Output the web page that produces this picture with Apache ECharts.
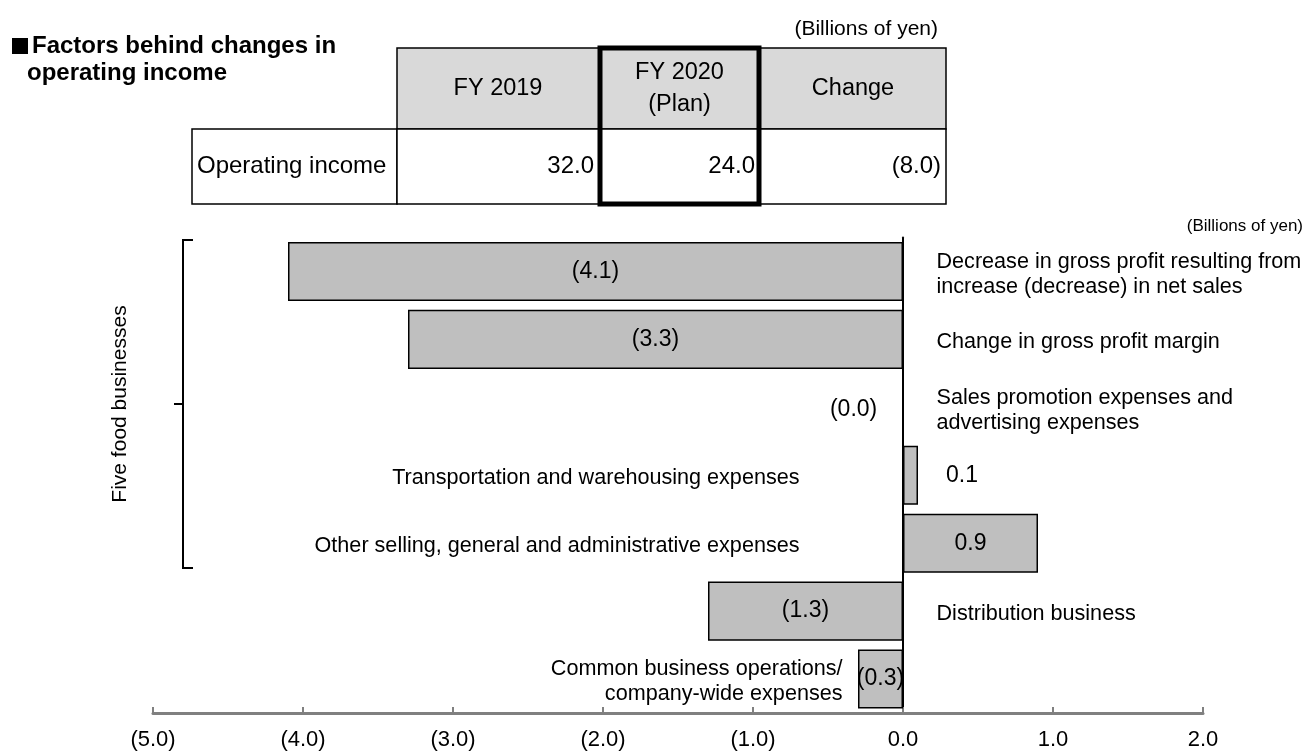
<!DOCTYPE html>
<html>
<head>
<meta charset="utf-8">
<script src="https://cdn.jsdelivr.net/npm/echarts@6/dist/echarts.min.js"></script>
<style>
html,body{margin:0;padding:0;background:#fff;}
#chart{width:1306px;height:751px;}
</style>
</head>
<body>
<div id="chart"></div>
<script>
// ---- Data ----
const categories = [
  'Decrease in gross profit resulting from\nincrease (decrease) in net sales',
  'Change in gross profit margin',
  'Sales promotion expenses and\nadvertising expenses',
  'Transportation and warehousing expenses',
  'Other selling, general and administrative expenses',
  'Distribution business',
  'Common business operations/\ncompany-wide expenses'
];
const values = [-4.1, -3.3, 0, 0.1, 0.9, -1.3, -0.3];
const valueLabels = ['(4.1)', '(3.3)', '(0.0)', '0.1', '0.9', '(1.3)', '(0.3)'];
const xMin = -5, xMax = 2, xStep = 1;

const tableHeaders = ['FY 2019', 'FY 2020\n(Plan)', 'Change'];
const tableRowLabel = 'Operating income';
const tableValues = ['32.0', '24.0', '(8.0)'];
const groupLabel = 'Five food businesses';

// ---- Chart ----
const FONT = 'Liberation Sans, Arial, sans-serif';
const chart = echarts.init(document.getElementById('chart'), null, {renderer: 'canvas'});

function fmtNum(v) {
  const s = Math.abs(v).toFixed(1);
  return v < 0 ? '(' + s + ')' : s;
}

// value label placement
const barData = values.map((v, i) => {
  const item = {value: v};
  if (i === 2) item.label = {position: 'left', distance: 25, offset: [0, 2]};
  else if (i === 3) item.label = {position: 'right', distance: 28};
  return item;
});

// category label placement (right of zero for negative bars, left for positive)
const catData = categories.map((c, i) => {
  const v = values[i];
  let lab;
  if (i === categories.length - 1) lab = {position: 'left', distance: 60, align: 'right'};
  else if (v > 0) lab = {position: 'left', distance: 103, align: 'right'};
  else lab = {position: 'right', distance: 33, align: 'left'};
  return {value: [0, i], label: lab};
});

// table graphics
const tbl = [];
const hdrTop = 48, hdrBot = 129, rowBot = 204;
const colX = [192, 397, 599, 760, 946];
for (let c = 0; c < 3; c++) {
  tbl.push({type: 'rect', shape: {x: colX[c+1], y: hdrTop, width: colX[c+2]-colX[c+1], height: hdrBot-hdrTop},
    style: {fill: '#d9d9d9', stroke: '#000', lineWidth: 1.5}});
  tbl.push({type: 'text', x: (colX[c+1]+colX[c+2])/2, y: (hdrTop+hdrBot)/2,
    style: {text: tableHeaders[c], font: '23.5px ' + FONT, fill: '#000', align: 'center', verticalAlign: 'middle', lineHeight: 32}});
}
for (let c = 0; c < 4; c++) {
  tbl.push({type: 'rect', shape: {x: colX[c], y: hdrBot, width: colX[c+1]-colX[c], height: rowBot-hdrBot},
    style: {fill: '#fff', stroke: '#000', lineWidth: 1.5}});
}
tbl.push({type: 'text', x: colX[0]+5, y: (hdrBot+rowBot)/2,
  style: {text: tableRowLabel, font: '24px ' + FONT, fill: '#000', align: 'left', verticalAlign: 'middle'}});
for (let c = 0; c < 3; c++) {
  tbl.push({type: 'text', x: colX[c+2]-5, y: (hdrBot+rowBot)/2,
    style: {text: tableValues[c], font: '24px ' + FONT, fill: '#000', align: 'right', verticalAlign: 'middle'}});
}
tbl.push({type: 'rect', shape: {x: colX[2]+1, y: hdrTop, width: colX[3]-colX[2]-2, height: rowBot-hdrTop},
  style: {fill: 'none', stroke: '#000', lineWidth: 5}});

const graphics = [
  {type: 'rect', shape: {x: 12, y: 38, width: 16, height: 16}, style: {fill: '#000'}},
  {type: 'text', x: 32, y: 46, style: {text: 'Factors behind changes in', font: 'bold 24px ' + FONT, fill: '#000', verticalAlign: 'middle'}},
  {type: 'text', x: 27, y: 73, style: {text: 'operating income', font: 'bold 24px ' + FONT, fill: '#000', verticalAlign: 'middle'}},
  {type: 'text', x: 938, y: 29, style: {text: '(Billions of yen)', font: '21px ' + FONT, fill: '#000', align: 'right', verticalAlign: 'middle'}},
  {type: 'text', x: 1303, y: 226, style: {text: '(Billions of yen)', font: '17px ' + FONT, fill: '#000', align: 'right', verticalAlign: 'middle'}},
  {type: 'polyline', shape: {points: [[193, 240], [183, 240], [183, 568], [193, 568]]}, style: {stroke: '#000', lineWidth: 2, fill: null}},
  {type: 'line', shape: {x1: 174, y1: 404, x2: 183, y2: 404}, style: {stroke: '#000', lineWidth: 2}},
  {type: 'text', x: 120, y: 404, rotation: Math.PI / 2,
    style: {text: groupLabel, font: '21px ' + FONT, fill: '#000', align: 'center', verticalAlign: 'middle'}}
].concat(tbl);

const option = {
  animation: false,
  backgroundColor: '#fff',
  grid: {left: 153, right: 103, top: 237.5, bottom: 37.5, containLabel: false},
  xAxis: {
    type: 'value', min: xMin, max: xMax, interval: xStep,
    splitLine: {show: false},
    axisLine: {show: true, lineStyle: {color: '#808080', width: 3}},
    axisTick: {show: true, inside: true, length: 6, lineStyle: {color: '#808080', width: 2}},
    axisLabel: {formatter: v => fmtNum(v), fontSize: 22, color: '#000', fontFamily: FONT, margin: 16}
  },
  yAxis: {
    type: 'category', data: categories, inverse: true,
    axisLine: {show: true, onZero: true, lineStyle: {color: '#000', width: 2}},
    axisTick: {show: false}, axisLabel: {show: false}, splitLine: {show: false}
  },
  series: [
    {
      type: 'bar', data: barData, barCategoryGap: '13%',
      itemStyle: {color: '#bfbfbf', borderColor: '#000', borderWidth: 1.5},
      label: {show: true, position: 'inside', fontSize: 23, color: '#000', fontFamily: FONT,
        formatter: p => valueLabels[p.dataIndex]},
      z: 2
    },
    {
      type: 'scatter', data: catData, symbolSize: 1,
      itemStyle: {color: 'rgba(0,0,0,0)'},
      label: {show: true, fontSize: 21.6, color: '#000', opacity: 1, fontFamily: FONT, lineHeight: 25,
        offset: [0, 3], formatter: p => categories[p.dataIndex]},
      emphasis: {disabled: true},
      silent: true, z: 3
    }
  ],
  graphic: graphics
};
chart.setOption(option);
</script>
</body>
</html>
